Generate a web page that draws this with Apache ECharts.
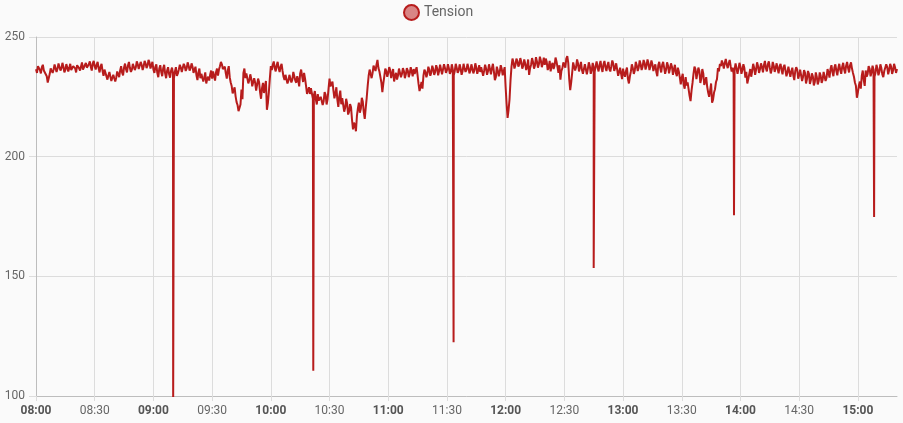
<!DOCTYPE html>
<html>
<head>
<meta charset="utf-8">
<script src="https://cdn.jsdelivr.net/npm/echarts@6/dist/echarts.min.js"></script>
<style>
html,body{margin:0;padding:0;background:#fafafa;}
#chart{width:903px;height:423px;}
</style>
</head>
<body>
<div id="chart"></div>
<script>
// Readings on each whole minute since 08:00 (0 .. 440)
const tension = [
236.5,237.8,236.2,237.4,236.0,235.8,231.0,234.5,237.2,236.4,
237.9,236.8,238.1,236.9,237.6,236.3,238.0,237.1,236.2,237.8,
236.9,238.2,237.0,237.7,236.4,238.3,237.2,238.6,237.5,239.0,
237.8,238.4,236.9,237.6,235.8,236.4,234.6,233.9,235.0,232.4,
234.1,233.0,235.2,236.0,235.1,237.3,236.5,238.1,237.0,236.4,
238.2,237.3,238.6,237.1,238.4,237.6,239.0,238.0,239.4,238.2,
236.4,237.5,234.9,236.8,235.4,236.9,234.7,236.0,234.5,235.8,
234.9,235.6,233.8,236.4,237.2,236.1,237.8,236.9,238.0,237.0,
237.6,236.3,234.0,235.2,232.8,234.5,233.1,230.6,233.4,234.2,
232.6,234.8,235.3,233.9,237.8,238.6,236.4,234.8,236.0,233.2,
229.5,227.0,225.2,221.6,218.3,228.0,235.0,232.8,234.2,231.9,
232.6,229.8,230.9,228.4,231.2,224.2,230.8,229.4,219.6,227.0,
237.8,238.4,237.0,238.2,236.9,237.6,235.8,232.0,234.4,231.8,
233.5,232.2,234.6,230.9,232.0,234.8,233.6,235.0,229.6,227.0,
226.2,228.4,225.6,224.0,226.1,222.6,225.4,223.2,225.8,224.0,
232.6,229.0,227.6,226.4,223.8,225.2,221.9,223.6,220.4,222.2,
218.8,220.6,211.4,213.2,217.0,222.6,220.0,223.0,215.8,224.6,
233.8,235.6,234.9,237.2,238.4,237.0,235.4,227.0,233.6,235.8,
234.9,236.2,234.8,231.4,235.0,233.9,236.1,234.6,235.8,234.4,
236.0,234.8,235.6,236.6,235.2,234.0,227.4,231.2,233.8,235.4,
234.6,236.3,235.1,236.6,235.4,236.9,235.8,236.4,235.2,237.0,
236.1,236.9,235.6,236.4,235.8,237.2,236.0,236.8,235.7,236.9,
236.3,237.2,235.9,236.8,236.0,237.3,236.2,235.4,236.6,235.9,
236.8,235.8,236.5,237.0,235.6,233.2,236.0,235.4,236.7,235.6,
229.0,216.2,224.0,237.6,239.4,238.2,240.0,238.6,239.6,238.0,
238.9,237.6,234.2,238.4,239.6,238.1,239.8,238.6,240.2,239.0,
238.4,239.6,237.4,235.6,239.2,238.0,239.8,235.0,232.2,237.0,
239.5,241.0,239.2,227.8,235.0,238.6,237.4,238.9,237.6,236.2,
235.0,237.8,236.6,237.9,236.2,236.8,238.0,237.2,238.4,237.0,
238.6,237.4,238.1,236.6,237.8,238.9,237.2,236.4,235.4,234.6,
236.8,233.4,237.2,230.6,235.6,237.0,236.0,238.2,237.2,238.6,
237.6,239.2,238.0,239.0,237.8,238.6,237.4,235.4,238.2,237.0,
238.4,237.2,236.4,238.0,236.8,237.6,236.4,235.0,237.2,233.2,
233.0,230.0,233.2,231.0,225.4,227.6,234.6,236.6,233.0,235.8,
232.6,234.8,231.4,229.2,225.0,230.6,223.8,228.2,232.4,235.6,
237.8,238.8,239.2,238.4,239.0,237.8,237.2,236.4,238.2,236.8,
237.6,236.2,237.0,235.4,232.4,236.6,235.8,237.2,236.4,237.8,
236.6,237.4,238.2,237.0,238.6,237.2,236.4,238.0,237.2,236.6,
237.8,236.2,237.4,236.0,235.2,236.8,235.6,234.0,235.8,236.4,
234.0,235.6,233.4,235.0,232.4,234.6,232.0,233.6,231.2,233.4,
231.6,233.8,232.2,234.6,233.0,235.2,236.6,235.4,237.2,235.8,
237.0,236.2,237.6,236.4,238.0,237.0,238.2,236.8,233.4,229.6,
226.8,231.4,233.8,232.0,236.0,234.6,236.8,235.2,236.4,235.0,
236.8,235.4,237.0,233.2,236.6,237.4,236.2,237.6,236.0,237.4,236.6
];
// Readings on each half minute (0.5 .. 439.5)
const tensionHalf = [
235.0,238.6,234.8,238.4,235.2,233.6,232.8,236.9,235.0,238.5,
235.4,238.9,236.0,239.2,235.2,238.7,235.6,238.8,235.4,238.6,
235.2,239.0,236.0,239.4,235.6,239.2,236.4,239.8,236.0,240.0,
236.4,239.6,235.2,238.8,233.8,235.0,232.2,235.4,231.6,234.2,
231.4,235.6,233.2,237.8,234.0,238.9,235.2,239.6,235.4,238.8,
236.2,239.8,236.6,239.6,236.2,240.0,237.0,240.4,236.8,239.6,
235.0,238.6,233.2,238.2,233.6,238.4,232.8,237.4,233.0,237.2,
232.8,237.4,234.8,238.4,235.4,238.8,235.8,239.4,236.0,239.0,
235.0,237.6,232.0,236.8,234.6,231.4,235.2,232.4,231.8,236.0,
235.6,231.8,236.8,236.4,239.6,236.6,237.6,232.6,237.8,231.0,
226.4,229.0,222.8,219.0,221.8,224.0,236.8,234.8,230.6,234.4,
229.4,232.8,227.6,232.6,227.0,228.6,226.6,231.6,222.4,232.6,
236.2,239.8,235.6,239.6,235.4,238.8,233.4,234.2,230.6,234.2,
231.0,235.4,231.8,233.6,229.4,236.4,231.2,232.6,226.2,229.0,
228.6,224.2,227.4,221.8,223.4,225.0,221.6,227.0,221.8,228.4,
229.4,231.4,224.4,229.0,220.8,227.6,224.4,218.8,224.2,217.6,
222.0,215.4,214.2,210.6,220.2,218.4,224.6,218.6,220.4,229.6,
236.4,232.8,238.0,235.8,240.4,235.6,231.0,230.6,236.8,233.4,
237.4,232.8,236.6,233.6,232.2,236.8,233.2,237.0,232.8,237.0,
233.2,237.4,233.6,234.6,237.4,230.4,229.2,228.4,236.4,233.2,
237.6,233.8,238.0,234.2,238.2,234.0,238.4,234.4,238.6,235.0,
238.6,234.6,238.6,234.0,238.8,235.0,238.6,234.2,238.8,235.4,
238.8,234.8,238.6,234.8,239.0,234.6,238.2,237.4,233.8,238.4,
234.2,238.6,234.4,238.8,232.0,237.6,233.6,238.2,234.0,237.4,
222.0,219.6,232.0,241.0,236.8,241.0,237.6,241.2,236.8,240.6,
236.2,240.6,237.0,241.2,236.8,241.6,237.2,241.8,237.4,241.4,
241.0,236.2,240.0,238.2,236.6,241.4,237.4,238.2,235.8,239.4,
237.2,242.0,232.4,231.0,239.4,236.0,240.6,235.6,239.6,234.6,
238.6,234.4,239.4,234.6,239.2,235.4,239.8,235.6,240.0,235.4,
240.0,235.8,239.6,235.6,240.2,235.8,239.0,233.8,237.2,232.4,
234.6,235.8,232.4,233.6,238.6,234.6,239.6,235.8,240.2,236.2,
240.4,236.4,240.6,236.2,240.2,235.8,238.6,233.6,239.6,235.2,
239.6,234.6,239.4,234.8,239.0,234.2,238.4,233.6,235.6,230.2,
234.6,228.4,229.8,228.2,223.2,230.8,237.6,232.4,237.2,230.8,
236.6,230.0,233.2,226.8,227.6,222.6,226.8,231.2,237.0,238.8,
240.2,236.8,240.8,237.0,240.4,235.6,234.6,239.0,234.6,239.2,
234.6,238.6,233.0,230.6,234.6,233.4,238.8,234.2,239.4,235.0,
239.0,235.2,240.0,235.6,239.8,234.8,239.6,235.4,239.0,234.8,
238.8,234.4,238.4,233.6,237.6,233.4,237.2,232.0,237.4,232.6,
236.4,231.6,236.2,230.6,235.8,230.4,234.8,229.8,235.2,230.2,
235.2,230.8,235.4,231.6,236.6,233.0,238.2,233.6,238.6,234.0,
238.8,234.6,239.2,234.8,239.6,235.2,239.4,235.0,231.0,224.6,
229.6,228.4,236.0,229.6,233.4,237.8,233.6,238.0,233.4,238.4,
234.0,238.6,234.4,235.8,238.6,234.4,238.8,234.6,238.8,235.0
];
// Short single-sample drops (minute, value)
const spikeMinutes = [70.1, 141.7, 213.4, 285.0, 356.7, 428.3];
const spikeValues  = [98, 110.5, 122.5, 153.5, 175.5, 174.8];
const tickLabels = ['08:00','08:30','09:00','09:30','10:00','10:30','11:00','11:30',
                    '12:00','12:30','13:00','13:30','14:00','14:30','15:00'];
const seriesName = 'Tension';

const data = tension.map((v, i) => [i, v])
  .concat(tensionHalf.map((v, i) => [i + 0.5, v]))
  .concat(spikeMinutes.map((m, k) => [m, spikeValues[k]]));
data.sort((a, b) => a[0] - b[0]);

const chart = echarts.init(document.getElementById('chart'), null, {renderer: 'canvas'});
chart.setOption({
  backgroundColor: '#fafafa',
  animation: false,
  textStyle: {fontFamily: 'Roboto'},
  legend: {
    left: 398, top: -1,
    icon: 'circle',
    itemWidth: 15, itemHeight: 15,
    textStyle: {fontSize: 14, color: '#666', fontFamily: 'Roboto'},
    data: [seriesName]
  },
  grid: {left: 36, right: 6, top: 37, bottom: 27},
  xAxis: {
    type: 'value', min: 0, max: 440, interval: 30,
    axisLine: {show: true, lineStyle: {color: '#bdbdbd', width: 1}},
    axisTick: {show: true, length: 5, lineStyle: {color: '#dcdcdc'}},
    splitLine: {show: true, showMaxLine: false, lineStyle: {color: '#dcdcdc', width: 1}},
    axisLabel: {
      margin: 9, fontSize: 12, color: '#666', fontFamily: 'Roboto',
      showMaxLabel: false,
      formatter: function (v) {
        const idx = Math.round(v / 30);
        const s = tickLabels[idx] || '';
        return (v % 60 === 0) ? '{b|' + s + '}' : s;
      },
      rich: {b: {fontWeight: 'bold', color: '#555', fontSize: 12, fontFamily: 'Roboto'}}
    }
  },
  yAxis: {
    type: 'value', min: 100, max: 250, interval: 50,
    axisLine: {show: true, lineStyle: {color: '#bdbdbd', width: 1}},
    axisTick: {show: true, length: 7, lineStyle: {color: '#dcdcdc'}},
    splitLine: {show: true, lineStyle: {color: '#dcdcdc', width: 1}},
    axisLabel: {margin: 11, fontSize: 12, color: '#666', fontFamily: 'Roboto'}
  },
  series: [{
    name: seriesName,
    type: 'line',
    data: data,
    showSymbol: false,
    symbol: 'none',
    sampling: null,
    clip: true,
    lineStyle: {color: '#b71c1c', width: 2},
    itemStyle: {color: '#d98585', borderColor: '#b71c1c', borderWidth: 1}
  }]
});
</script>
</body>
</html>
